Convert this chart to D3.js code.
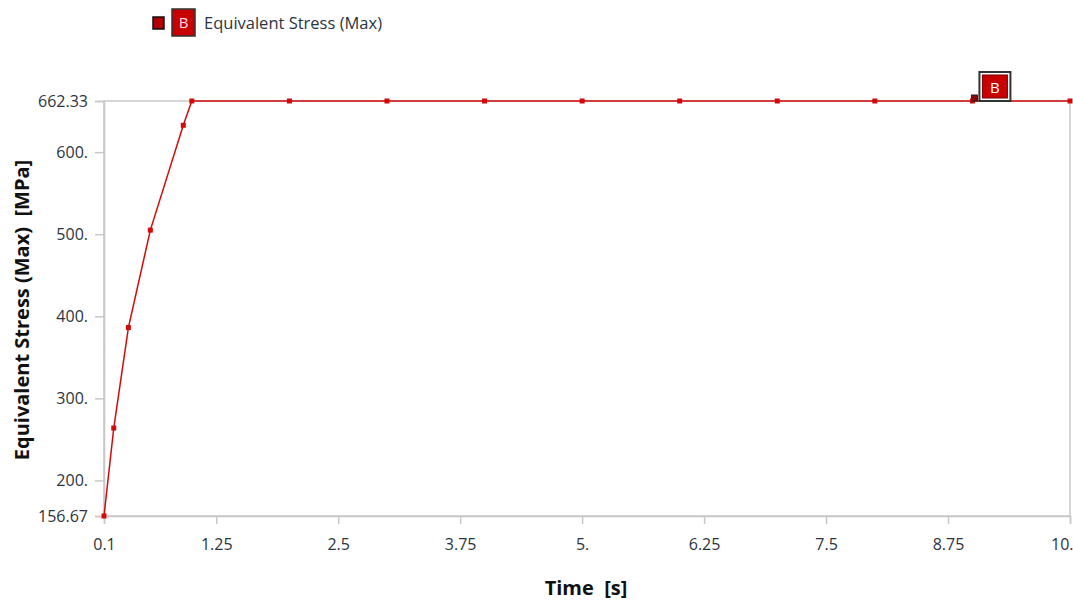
<!DOCTYPE html>
<html>
<head>
<meta charset="utf-8">
<script src="https://cdn.jsdelivr.net/npm/d3@7"></script>
<style>
  body { margin: 0; background: #fff; }
  svg { display: block; font-family: "Open Sans", "Noto Sans", sans-serif; }
</style>
</head>
<body>
<script>
'use strict';

// time steps (s) and max equivalent stress (MPa)
const times = [0.1, 0.2, 0.35, 0.575, 0.9125, 1, 2, 3, 4, 5, 6, 7, 8, 9, 10];
const stress = [156.67, 263.8, 386.3, 505.0, 632.7, 662.33, 662.33, 662.33, 662.33, 662.33, 662.33, 662.33, 662.33, 662.33, 662.33];
const xTicks = [0.1, 1.25, 2.5, 3.75, 5, 6.25, 7.5, 8.75, 10];
const xTickLabels = ['0.1', '1.25', '2.5', '3.75', '5.', '6.25', '7.5', '8.75', '10.'];
const yTicks = [156.67, 200, 300, 400, 500, 600, 662.33];
const yTickLabels = ['156.67', '200.', '300.', '400.', '500.', '600.', '662.33'];
const seriesName = 'Equivalent Stress (Max)';
const labelTime = 9;

(function() {
  let width = 1073;
  let height = 601;
  let left = 104, right = 1070, top = 101, bottom = 516;
  let red = '#d20a0a';

  let svg = d3.select('body').append('svg')
    .attr('width', width)
    .attr('height', height);

  let x = d3.scaleLinear().domain([0.1, 10]).range([left, right]);
  let y = d3.scaleLinear().domain([156.67, 662.33]).range([bottom, top]);

  // frame
  svg.append('rect')
    .attr('x', left).attr('y', top)
    .attr('width', right - left).attr('height', bottom - top)
    .attr('fill', 'none')
    .attr('stroke', '#c8c8c8')
    .attr('stroke-width', 1.5);

  let xAxis = svg.append('g')
    .attr('transform', 'translate(0,' + bottom + ')')
    .call(d3.axisBottom(x).tickValues(xTicks).tickSize(8).tickPadding(15)
      .tickFormat((d, i) => xTickLabels[i]));

  let yAxis = svg.append('g')
    .attr('transform', 'translate(' + left + ',0)')
    .call(d3.axisLeft(y).tickValues(yTicks).tickSize(9).tickPadding(7)
      .tickFormat((d, i) => yTickLabels[i]));

  [xAxis, yAxis].forEach(function(a) {
    a.select('.domain').attr('stroke', '#c8c8c8').attr('stroke-width', 1.5);
    a.selectAll('.tick line').attr('stroke', '#c8c8c8').attr('stroke-width', 1.5);
    a.selectAll('.tick text')
      .attr('fill', '#2b3440')
      .style('font-size', '16px')
      .style('font-family', '"Open Sans", sans-serif');
  });
  // keep the last x label inside the picture
  xAxis.selectAll('.tick text').filter((d, i) => i === xTicks.length - 1)
    .attr('text-anchor', 'end')
    .attr('dx', 3);

  // series line
  let line = d3.line()
    .x((d, i) => x(times[i]))
    .y(d => y(d));

  svg.append('path')
    .datum(stress)
    .attr('d', line)
    .attr('fill', 'none')
    .attr('stroke', red)
    .attr('stroke-width', 1.5);

  svg.selectAll('.pt')
    .data(stress)
    .enter()
    .append('rect')
    .attr('x', (d, i) => x(times[i]) - 2.5)
    .attr('y', d => y(d) - 2.5)
    .attr('width', 5)
    .attr('height', 5)
    .attr('fill', red);

  // annotation B at t = 9
  let li = times.indexOf(labelTime);
  let ax = x(labelTime), ay = y(stress[li]);
  svg.append('rect')
    .attr('x', ax - 1).attr('y', ay - 6)
    .attr('width', 6).attr('height', 6)
    .attr('fill', '#8b0000').attr('stroke', '#222').attr('stroke-width', 1);
  svg.append('rect')
    .attr('x', ax + 7).attr('y', ay - 29)
    .attr('width', 31).attr('height', 29)
    .attr('fill', '#fff').attr('stroke', '#333').attr('stroke-width', 2);
  svg.append('rect')
    .attr('x', ax + 10).attr('y', ay - 26)
    .attr('width', 25).attr('height', 23)
    .attr('fill', '#c80000').attr('stroke', '#7a0000').attr('stroke-width', 1);
  svg.append('text')
    .attr('x', ax + 22.5).attr('y', ay - 8.5)
    .attr('text-anchor', 'middle')
    .attr('fill', '#fff')
    .style('font-size', '15px')
    .text('B');

  // legend
  svg.append('rect')
    .attr('x', 153).attr('y', 17)
    .attr('width', 11).attr('height', 12)
    .attr('fill', '#b00000').attr('stroke', '#111').attr('stroke-width', 1.5);
  svg.append('rect')
    .attr('x', 172).attr('y', 9)
    .attr('width', 23).attr('height', 27)
    .attr('fill', '#c80000').attr('stroke', '#333').attr('stroke-width', 1.5);
  svg.append('text')
    .attr('x', 183.5).attr('y', 28)
    .attr('text-anchor', 'middle')
    .attr('fill', '#fde')
    .style('font-size', '15px')
    .text('B');
  svg.append('text')
    .attr('x', 204).attr('y', 29)
    .attr('fill', '#2b3440')
    .style('font-size', '16.5px')
    .text(seriesName);

  // axis titles
  svg.append('text')
    .attr('x', 586).attr('y', 595)
    .attr('text-anchor', 'middle')
    .style('font-size', '20px')
    .style('font-weight', 'bold')
    .attr('fill', '#111')
    .attr('xml:space', 'preserve')
    .text('Time  [s]');

  svg.append('text')
    .attr('transform', 'translate(29, 310)rotate(-90)')
    .attr('text-anchor', 'middle')
    .style('font-size', '20px')
    .style('font-weight', 'bold')
    .attr('fill', '#111')
    .attr('xml:space', 'preserve')
    .text('Equivalent Stress (Max)  [MPa]');
})();
</script>
</body>
</html>
